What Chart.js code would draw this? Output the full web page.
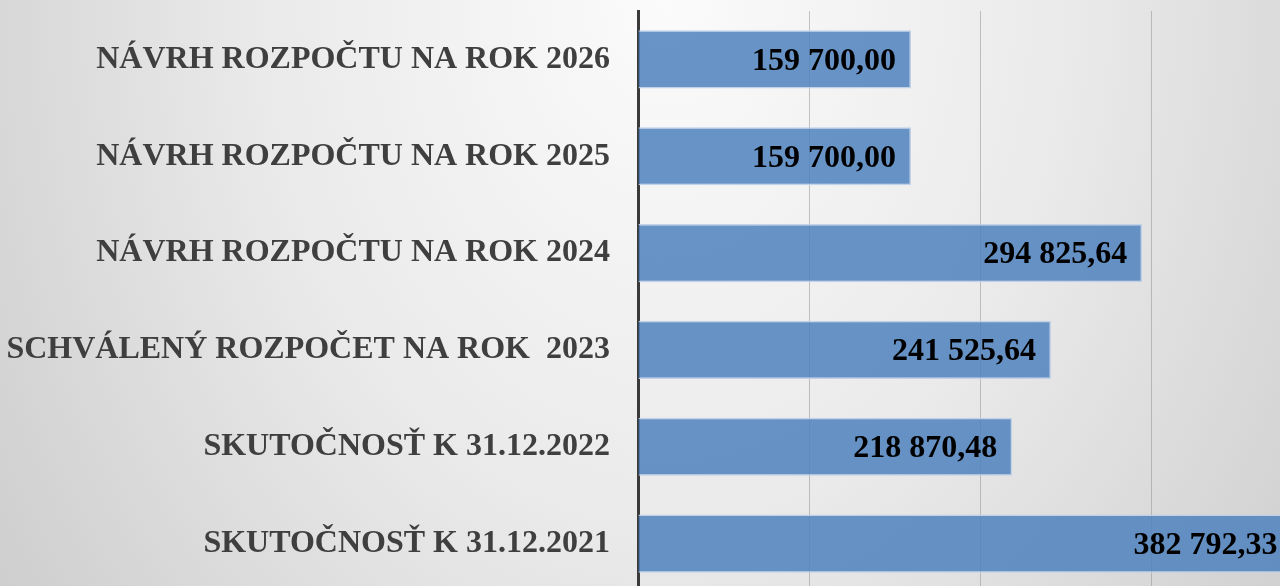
<!DOCTYPE html>
<html lang="sk">
<head>
<meta charset="UTF-8">
<title>Rozpočet</title>
<script src="https://cdn.jsdelivr.net/npm/chart.js"></script>
<style>
    html, body {
        margin: 0;
        width: 1280px;
        height: 586px;
        overflow: hidden;
    }
    body {
        background: radial-gradient(ellipse 70% 200% at 52% 0%, #fbfbfb 0%, #eaeaea 45%, #d4d4d4 80%, #c8c8c8 100%);
    }
    #graf {
        position: absolute;
        left: 0;
        top: 0;
    }
</style>
</head>
<body>
<canvas id="graf" width="1325" height="592"></canvas>

<script>
    const kategorie = [
        "NÁVRH ROZPOČTU NA ROK 2026",
        "NÁVRH ROZPOČTU NA ROK 2025",
        "NÁVRH ROZPOČTU NA ROK 2024",
        "SCHVÁLENÝ ROZPOČET NA ROK  2023",
        "SKUTOČNOSŤ K 31.12.2022",
        "SKUTOČNOSŤ K 31.12.2021"
    ];
    const hodnoty = [159700.00, 159700.00, 294825.64, 241525.64, 218870.48, 382792.33];
    const osX = { min: 0, max: 400000, krok: 100000 };

    function formatSK(v) {
        const casti = v.toFixed(2).split(".");
        const cele = casti[0].replace(/\B(?=(\d{3})+(?!\d))/g, " ");
        return cele + "," + casti[1];
    }

    // popisky hodnot vo vnutri stlpcov
    const popisky = {
        id: "popisky",
        afterDatasetsDraw(chart) {
            const ctx = chart.ctx;
            const meta = chart.getDatasetMeta(0);
            ctx.save();
            ctx.font = "bold 32px 'Liberation Serif', 'Times New Roman', serif";
            ctx.fillStyle = "#000000";
            ctx.textAlign = "right";
            ctx.textBaseline = "middle";
            meta.data.forEach(function (bar, i) {
                ctx.fillText(formatSK(hodnoty[i]), bar.x - 15, bar.y + 2);
            });
            ctx.restore();
        }
    };

    new Chart(document.getElementById("graf"), {
        type: "bar",
        data: {
            labels: kategorie,
            datasets: [{
                data: hodnoty,
                backgroundColor: "rgba(79, 129, 189, 0.85)",
                borderColor: "rgba(190, 208, 232, 0.95)",
                borderWidth: 1.5,
                barPercentage: 0.6,
                categoryPercentage: 1.0
            }]
        },
        options: {
            indexAxis: "y",
            responsive: false,
            maintainAspectRatio: false,
            animation: false,
            layout: { padding: { top: 11, right: 3, bottom: 0, left: 0 } },
            plugins: {
                legend: { display: false },
                tooltip: { enabled: false }
            },
            scales: {
                x: {
                    min: osX.min,
                    max: osX.max,
                    ticks: { display: false, stepSize: osX.krok },
                    grid: { color: "rgba(150, 150, 150, 0.55)", lineWidth: 1, drawTicks: false },
                    border: { display: false },
                    afterFit: function (s) {
                        s.height = 0;
                        s.paddingLeft = 0;
                        s.paddingRight = 0;
                    }
                },
                y: {
                    grid: { display: false, drawTicks: false },
                    border: { display: true, color: "#3a3a3a", width: 3 },
                    ticks: {
                        color: "#3f3f3f",
                        padding: 28,
                        font: { family: "'Liberation Serif', 'Times New Roman', serif", size: 32, weight: "bold" }
                    },
                    afterFit: function (s) {
                        s.width = 638;
                        s.paddingTop = 0;
                        s.paddingBottom = 0;
                    }
                }
            }
        },
        plugins: [popisky]
    });
</script>
</body>
</html>
